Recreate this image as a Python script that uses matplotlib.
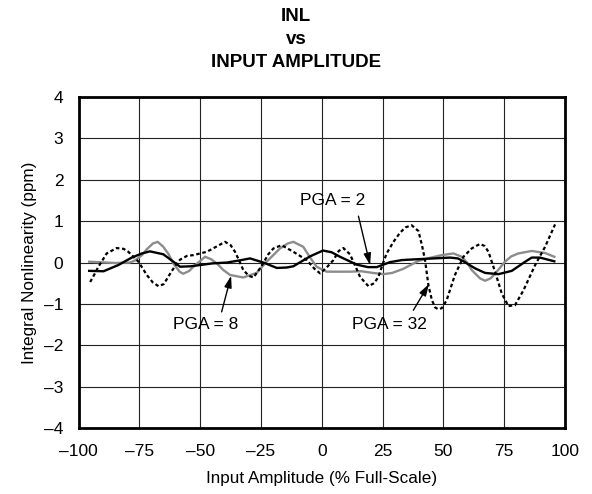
import numpy as np
import matplotlib
matplotlib.use('Agg')
import matplotlib.pyplot as plt

plt.rcParams['font.family'] = ['Liberation Sans', 'DejaVu Sans']

# INL curves (x: % full-scale, y: ppm)
pga2_x = [-95.7, -89.8, -83.7, -78.2, -74, -70.7, -65.2, -61.5, -58.3, -54,
          -50.1, -45, -39.1, -34, -29.5, -24, -18.5, -14.5, -11.7, -4.8,
          0.5, 4, 7.5, 14.4, 19, 22.6, 28.1, 33, 39.1, 46,
          52.8, 56, 58.3, 63.1, 67.2, 72.7, 78.2, 83.7, 86.4, 89.8,
          95.7]
pga2_y = [-0.2, -0.21, -0.06, 0.12, 0.22, 0.27, 0.2, 0.04, -0.1, -0.09,
          -0.06, -0.02, 0.0, 0.05, 0.1, 0.0, -0.13, -0.12, -0.09, 0.15,
          0.29, 0.25, 0.14, -0.05, -0.11, -0.11, 0.01, 0.06, 0.08, 0.1,
          0.12, 0.1, 0.03, -0.14, -0.25, -0.28, -0.2, 0.02, 0.12, 0.12,
          0.03]

pga8_x = [-95.7, -85, -79, -76.8, -74, -72, -69.5, -67.5, -65.2, -63,
          -61.1, -58.5, -57, -54.5, -52.8, -48, -45.5, -43.2, -40.5, -37.7,
          -32.3, -26.8, -22.7, -17.2, -14, -11.7, -7.6, -5, -2.1, 2,
          11.6, 16.4, 21, 25.4, 29, 33.6, 39.8, 45, 49.4, 54.2,
          57.6, 59.8, 61.7, 65.1, 67.2, 69.5, 71.3, 75.4, 78, 80.9,
          86.4, 91.9, 95.7]
pga8_y = [0.02, -0.01, 0.0, 0.05, 0.18, 0.32, 0.46, 0.5, 0.38, 0.2,
          -0.02, -0.22, -0.27, -0.2, -0.1, 0.14, 0.08, -0.02, -0.18, -0.3,
          -0.36, -0.25, 0.02, 0.34, 0.46, 0.5, 0.38, 0.14, -0.1, -0.22,
          -0.22, -0.21, -0.25, -0.28, -0.25, -0.15, 0.04, 0.12, 0.18, 0.22,
          0.14, 0.0, -0.18, -0.38, -0.44, -0.38, -0.27, 0.02, 0.15, 0.22,
          0.28, 0.23, 0.14]

pga32_x = [-95.3, -93.5, -91.9, -88.5, -84.4, -81.5, -79.6, -75.4, -72, -69.5,
           -67.2, -65, -62.4, -60, -58.3, -55.5, -52.8, -47.3, -43.5, -39.8,
           -37.5, -35.7, -34, -32.3, -30, -28.1, -24.7, -22, -19.9, -16.5,
           -11.7, -6.2, -3, -0.7, 2, 4.8, 7, 8.9, 11.6, 13.8,
           15.8, 19.2, 21.5, 23.3, 25, 26.7, 29.5, 32.2, 34.5, 37,
           39.8, 41.3, 42.5, 43.9, 45.3, 46.6, 48, 49.4, 51.4, 53,
           54.8, 58.3, 61.7, 65.1, 67, 68.6, 71.3, 74.1, 76.8, 79.5,
           83, 87.8, 91.9, 96]
pga32_y = [-0.47, -0.28, -0.1, 0.22, 0.35, 0.33, 0.26, 0.02, -0.3, -0.48,
           -0.57, -0.52, -0.27, -0.05, 0.07, 0.16, 0.18, 0.26, 0.38, 0.5,
           0.42, 0.26, 0.05, -0.18, -0.32, -0.36, -0.08, 0.2, 0.34, 0.42,
           0.26, 0.06, -0.15, -0.26, -0.12, 0.06, 0.28, 0.35, 0.2, -0.08,
           -0.35, -0.57, -0.5, -0.35, -0.05, 0.22, 0.5, 0.72, 0.85, 0.9,
           0.76, 0.4, 0.06, -0.55, -0.9, -1.08, -1.13, -1.1, -0.91, -0.62,
           -0.3, 0.14, 0.34, 0.45, 0.4, 0.26, -0.22, -0.75, -1.05, -1.03,
           -0.67, -0.06, 0.38, 0.92]

xticks = [-100, -75, -50, -25, 0, 25, 50, 75, 100]
xtick_labels = ['–100', '–75', '–50', '–25', '0', '25', '50', '75', '100']
yticks = [-4, -3, -2, -1, 0, 1, 2, 3, 4]
ytick_labels = ['–4', '–3', '–2', '–1', '0', '1', '2', '3', '4']

fig = plt.figure(figsize=(5.92, 4.94), dpi=100)
ax = fig.add_axes([0.133, 0.133, 0.821, 0.671])

ax.plot(pga8_x, pga8_y, color='#8c8c8c', lw=1.7, zorder=3)
ax.plot(pga2_x, pga2_y, color='black', lw=1.7, zorder=4)
ax.plot(pga32_x, pga32_y, color='black', lw=1.6, dashes=(1.6, 1.2), zorder=5)

ax.set_xlim(-100, 100)
ax.set_ylim(-4, 4)
ax.set_xticks(xticks)
ax.set_xticklabels(xtick_labels)
ax.set_yticks(yticks)
ax.set_yticklabels(ytick_labels)
ax.tick_params(length=0, labelsize=12.5)
ax.tick_params(axis='x', pad=11)
ax.tick_params(axis='y', pad=11)
ax.grid(True, color='#222222', lw=0.8)
ax.set_axisbelow(True)
for s in ax.spines.values():
    s.set_linewidth(2.0)

ax.set_xlabel('Input Amplitude (% Full-Scale)', fontsize=12.3, labelpad=9)
ax.set_ylabel('Integral Nonlinearity (ppm)', fontsize=12.3, labelpad=5)

fig.text(0.5, 0.967, 'INL', ha='center', va='center', fontsize=13.5, fontweight='bold')
fig.text(0.5, 0.921, 'vs', ha='center', va='center', fontsize=13.5, fontweight='bold')
fig.text(0.5, 0.873, 'INPUT AMPLITUDE', ha='center', va='center', fontsize=13.5, fontweight='bold')

arrow = dict(arrowstyle='-|>,head_width=0.22,head_length=0.7', color='black', lw=1.0,
             shrinkA=0, shrinkB=0)
ax.annotate('', xy=(19.9, -0.06), xytext=(15.1, 1.12), arrowprops=arrow)
ax.text(4.5, 1.49, 'PGA = 2', ha='center', va='center', fontsize=12.5)
ax.annotate('', xy=(-37.3, -0.32), xytext=(-41.2, -1.19), arrowprops=arrow)
ax.text(-47.8, -1.49, 'PGA = 8', ha='center', va='center', fontsize=12.5)
ax.annotate('', xy=(44.1, -0.52), xytext=(37.7, -1.15), arrowprops=arrow)
ax.text(27.8, -1.49, 'PGA = 32', ha='center', va='center', fontsize=12.5)

fig.savefig('out.png', dpi=100)
